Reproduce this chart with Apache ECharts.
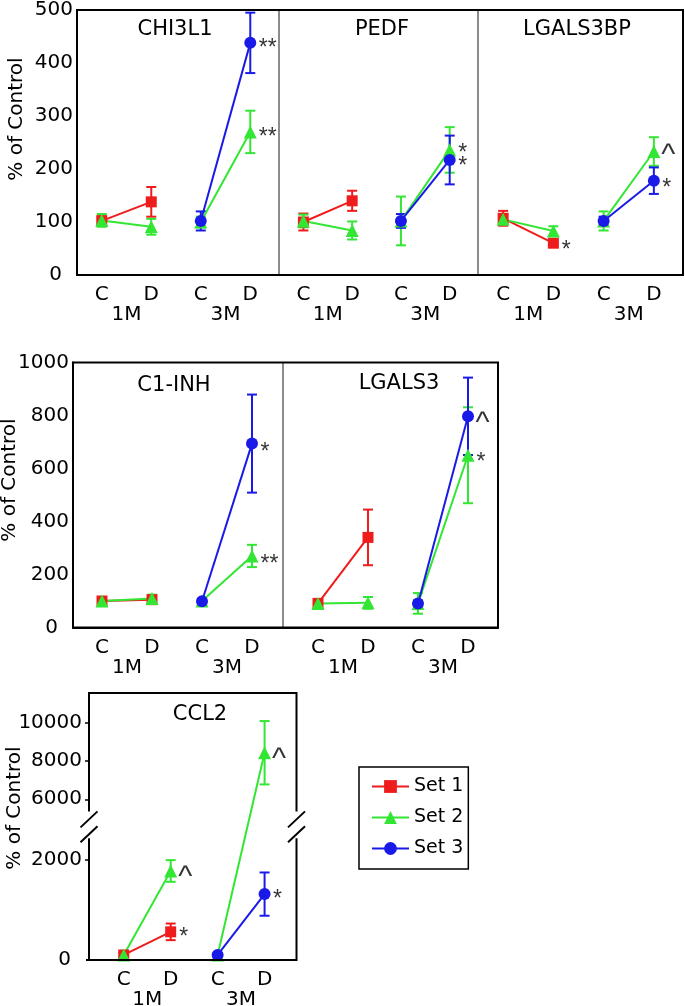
<!DOCTYPE html>
<html>
<head>
<meta charset="utf-8">
<script src="https://cdn.jsdelivr.net/npm/echarts@6/dist/echarts.min.js"></script>
<style>html,body{margin:0;padding:0;background:#fff}#chart{width:685px;height:1006px}</style>
</head>
<body>
<div id="chart"></div>
<script>
// x positions: C / D for 1M and 3M
var xPos = [1, 2, 3, 4];
var xTickLabels = ['C', 'D', 'C', 'D'];
var groupPos = [1.5, 3.5];
var groupLabels = ['1M', '3M'];
var setNames = ['Set 1', 'Set 2', 'Set 3'];

// CHI3L1 (% of control, mean and error)
var chi3l1Set1 = [102, 138, null, null];
var chi3l1Set1Err = [9, 28, null, null];
var chi3l1Set2 = [103, 91, 100, 270];
var chi3l1Set2Err = [12, 15, 10, 40];
var chi3l1Set3 = [null, null, 102, 438];
var chi3l1Set3Err = [null, null, 18, 57];
var chi3l1Marks = [[4, 438, '**'], [4, 270, '**']];

// PEDF
var pedfSet1 = [100, 140, null, null];
var pedfSet1Err = [16, 19, null, null];
var pedfSet2 = [102, 84, 102, 236];
var pedfSet2Err = [12, 17, 46, 43];
var pedfSet3 = [null, null, 102, 217];
var pedfSet3Err = [null, null, 13, 46];
var pedfMarks = [[4, 241, '*'], [4, 215, '*']];

// LGALS3BP
var lgals3bpSet1 = [107, 60, null, null];
var lgals3bpSet1Err = [14, 5, null, null];
var lgals3bpSet2 = [105, 83, 102, 233];
var lgals3bpSet2Err = [8, 9, 18, 27];
var lgals3bpSet3 = [null, null, 102, 178];
var lgals3bpSet3Err = [null, null, 8, 25];
var lgals3bpMarks = [[2, 57, '*'], [4, 238, '^'], [4, 174, '*']];

// C1-INH
var c1inhSet1 = [100, 105, null, null];
var c1inhSet1Err = [12, 10, null, null];
var c1inhSet2 = [100, 109, 100, 270];
var c1inhSet2Err = [10, 15, 8, 42];
var c1inhSet3 = [null, null, 99, 694];
var c1inhSet3Err = [null, null, 8, 185];
var c1inhMarks = [[4, 684, '*'], [4, 259, '**']];

// LGALS3
var lgals3Set1 = [91, 340, null, null];
var lgals3Set1Err = [10, 105, null, null];
var lgals3Set2 = [91, 93, 91, 650];
var lgals3Set2Err = [8, 22, 39, 181];
var lgals3Set3 = [null, null, 91, 797];
var lgals3Set3Err = [null, null, 10, 146];
var lgals3Marks = [[4, 795, '^'], [4, 644, '*']];

// CCL2
var ccl2Set1 = [100, 560, null, null];
var ccl2Set1Err = [40, 165, null, null];
var ccl2Set2 = [100, 1770, 100, 8430];
var ccl2Set2Err = [40, 215, 30, 1655];
var ccl2Set3 = [null, null, 100, 1310];
var ccl2Set3Err = [null, null, 30, 430];
var ccl2Marks = [[4, 8430, '^'], [2, 1770, '^'], [2, 563, '*'], [4, 1312, '*']];
var ccl2Ticks = [0, 2000, 6000, 8000, 10000];

// CCL2 broken axis: lower part 1:1, upper part compressed
var CCL2_LOW_TOP = 2500, CCL2_HIGH_BOTTOM = 4950;
var CCL2_HIGH_RATIO = 0.3807, CCL2_HIGH_REF = 10000, CCL2_HIGH_REF_D = 4718, CCL2_MAX_D = 5308;
function ccl2Map(v) {
	return v <= CCL2_LOW_TOP ? v : CCL2_HIGH_REF_D + (v - CCL2_HIGH_REF) * CCL2_HIGH_RATIO;
}
function ccl2Unmap(d) {
	return d <= CCL2_LOW_TOP ? d : CCL2_HIGH_REF + (d - CCL2_HIGH_REF_D) / CCL2_HIGH_RATIO;
}
function same(v) { return v; }

var FONT = 'DejaVu Sans';
var MARK_FONT = 'Liberation Sans';
var colors = ['#ee1c1c', '#33e633', '#1a1ae8'];
var symbols = ['rect', 'triangle', 'circle'];
var symbolSizes = [11, 13, 12];

var panels = [
	{ title: 'CHI3L1', tx: 175, ty: 30, grid: { left: 77, top: 10, width: 202, height: 265 }, x: [0.5, 4.58], y: [0, 500, 100], showY: true,
	  sets: [[chi3l1Set1, chi3l1Set1Err], [chi3l1Set2, chi3l1Set2Err], [chi3l1Set3, chi3l1Set3Err]], marks: chi3l1Marks },
	{ title: 'PEDF', tx: 382, ty: 30, grid: { left: 279, top: 10, width: 199, height: 265 }, x: [0.5, 4.58], y: [0, 500, 100], showY: false,
	  sets: [[pedfSet1, pedfSet1Err], [pedfSet2, pedfSet2Err], [pedfSet3, pedfSet3Err]], marks: pedfMarks },
	{ title: 'LGALS3BP', tx: 577, ty: 30, grid: { left: 478, top: 10, width: 205, height: 265 }, x: [0.5, 4.58], y: [0, 500, 100], showY: false,
	  sets: [[lgals3bpSet1, lgals3bpSet1Err], [lgals3bpSet2, lgals3bpSet2Err], [lgals3bpSet3, lgals3bpSet3Err]], marks: lgals3bpMarks },
	{ title: 'C1-INH', tx: 174, ty: 386, grid: { left: 73, top: 362.5, width: 210, height: 265 }, x: [0.42, 4.62], y: [0, 1000, 200], showY: true,
	  sets: [[c1inhSet1, c1inhSet1Err], [c1inhSet2, c1inhSet2Err], [c1inhSet3, c1inhSet3Err]], marks: c1inhMarks },
	{ title: 'LGALS3', tx: 399, ty: 384, grid: { left: 283, top: 362.5, width: 215, height: 265 }, x: [0.3, 4.6], y: [0, 1000, 200], showY: false,
	  sets: [[lgals3Set1, lgals3Set1Err], [lgals3Set2, lgals3Set2Err], [lgals3Set3, lgals3Set3Err]], marks: lgals3Marks },
	{ title: 'CCL2', tx: 200, ty: 715, grid: { left: 89, top: 693, width: 207.5, height: 267 }, x: [0.26, 4.68], broken: true, showY: true,
	  sets: [[ccl2Set1, ccl2Set1Err], [ccl2Set2, ccl2Set2Err], [ccl2Set3, ccl2Set3Err]], marks: ccl2Marks }
];

var labelStyle = { fontFamily: FONT, fontSize: 20, color: '#000' };
// the zero label sits further left than the others
var zeroRich = { z: { fontFamily: FONT, fontSize: 20, color: '#000', padding: [0, 11, 0, 0] } };
function yLabel(v) { return v === 0 ? '{z|0}' : String(v); }

var grids = [], xAxes = [], yAxes = [], series = [], graphics = [];

panels.forEach(function(p, gi) {
	var tf = p.broken ? ccl2Map : same;
	grids.push(Object.assign({ outerBoundsMode: 'none', containLabel: false }, p.grid));

	xAxes.push({
		gridIndex: gi, type: 'value', min: p.x[0], max: p.x[1],
		axisLine: { show: !p.broken, onZero: false, lineStyle: { color: '#000', width: 2 } },
		axisTick: { show: false }, splitLine: { show: false },
		axisLabel: Object.assign({ customValues: xPos, margin: 10, formatter: function(v) { return xTickLabels[xPos.indexOf(v)]; } }, labelStyle)
	});
	xAxes.push({
		gridIndex: gi, type: 'value', min: p.x[0], max: p.x[1], position: 'bottom', offset: 20,
		axisLine: { show: false }, axisTick: { show: false }, splitLine: { show: false },
		axisLabel: Object.assign({ customValues: groupPos, margin: 10, formatter: function(v) { return groupLabels[groupPos.indexOf(v)]; } }, labelStyle)
	});

	if (p.broken) {
		var tickD = ccl2Ticks.map(ccl2Map);
		yAxes.push({
			gridIndex: gi, type: 'value', min: 0, max: CCL2_MAX_D,
			axisLine: { show: false },
			axisTick: { show: true, customValues: tickD.slice(1), length: 4, lineStyle: { color: '#000', width: 1.5 } },
			splitLine: { show: false },
			axisLabel: Object.assign({ customValues: tickD, margin: 7, rich: zeroRich,
				formatter: function(v) { return yLabel(Math.round(ccl2Unmap(v))); } }, labelStyle)
		});
	} else {
		yAxes.push({
			gridIndex: gi, type: 'value', min: p.y[0], max: p.y[1], interval: p.y[2], show: p.showY,
			axisLine: { show: true, lineStyle: { color: '#000', width: 2 } },
			axisTick: { show: false }, splitLine: { show: false },
			axisLabel: Object.assign({ margin: 4, rich: zeroRich, formatter: yLabel }, labelStyle)
		});
	}

	p.sets.forEach(function(s, si) {
		var means = s[0], errs = s[1], color = colors[si];
		var bars = [], pts = [];
		xPos.forEach(function(x, i) {
			if (i == 2) pts.push([2.5, '-']);
			if (means[i] == null) { pts.push([x, '-']); return; }
			pts.push([x, tf(means[i])]);
			bars.push([x, tf(means[i] - errs[i]), tf(means[i] + errs[i])]);
		});
		series.push({
			type: 'custom', name: setNames[si] + ' err', xAxisIndex: gi * 2, yAxisIndex: gi, silent: true,
			encode: { x: 0, y: [1, 2] },
			renderItem: function(params, api) {
				var top = api.coord([api.value(0), api.value(2)]);
				var bot = api.coord([api.value(0), api.value(1)]);
				var w = 5, st = { stroke: color, lineWidth: 2 };
				return { type: 'group', children: [
					{ type: 'line', shape: { x1: top[0], y1: top[1], x2: bot[0], y2: bot[1] }, style: st },
					{ type: 'line', shape: { x1: top[0] - w, y1: top[1], x2: top[0] + w, y2: top[1] }, style: st },
					{ type: 'line', shape: { x1: bot[0] - w, y1: bot[1], x2: bot[0] + w, y2: bot[1] }, style: st }
				] };
			},
			data: bars
		});
		series.push({
			type: 'line', name: setNames[si], xAxisIndex: gi * 2, yAxisIndex: gi, silent: true,
			symbol: symbols[si], symbolSize: symbolSizes[si], showAllSymbol: true,
			lineStyle: { color: color, width: 2 }, itemStyle: { color: color },
			data: pts
		});
	});

	// significance marks
	series.push({
		type: 'scatter', xAxisIndex: gi * 2, yAxisIndex: gi, silent: true, symbolSize: 1, z: 5,
		itemStyle: { color: 'transparent' },
		data: p.marks.map(function(m) {
			var caret = m[2] == '^';
			return {
				value: [m[0], tf(m[1]), m[2]],
				label: { show: true, position: 'right', distance: caret ? 7 : 8, formatter: function(q) { return q.value[2]; },
					fontFamily: MARK_FONT, fontSize: caret ? 30 : 23, color: '#000', offset: [0, caret ? 7 : 6] }
			};
		})
	});

	graphics.push({ type: 'text', x: p.tx, y: p.ty, z: 10,
		style: { text: p.title, fontFamily: FONT, fontSize: 21, fill: '#000', align: 'center', verticalAlign: 'middle' } });
});

// y axis titles
[[17, 119], [10, 480], [15, 808]].forEach(function(c) {
	graphics.push({ type: 'text', x: c[0], y: c[1], rotation: Math.PI / 2, z: 10,
		style: { text: '% of Control', fontFamily: FONT, fontSize: 20, fill: '#000', align: 'center', verticalAlign: 'middle' } });
});

// panel frames
[[panels[0], panels[2]], [panels[3], panels[4]]].forEach(function(row) {
	var a = row[0].grid, b = row[1].grid;
	graphics.push({ type: 'rect', z: 10, shape: { x: a.left, y: a.top, width: b.left + b.width - a.left, height: a.height },
		style: { fill: 'none', stroke: '#000', lineWidth: 2 } });
});
[panels[1], panels[2], panels[4]].forEach(function(p) {
	var g = p.grid;
	graphics.push({ type: 'line', z: 9, shape: { x1: g.left, y1: g.top, x2: g.left, y2: g.top + g.height },
		style: { stroke: '#8c8c8c', lineWidth: 2 } });
});

var chart = echarts.init(document.getElementById('chart'));
chart.setOption({
	animation: false,
	backgroundColor: '#fff',
	legend: {
		data: setNames, orient: 'vertical', left: 359, top: 767,
		padding: [10, 5, 11, 12], itemWidth: 37, itemHeight: 16, itemGap: 12,
		borderColor: '#000', borderWidth: 1.5,
		textStyle: { fontFamily: FONT, fontSize: 19, color: '#000' }
	},
	grid: grids,
	xAxis: xAxes,
	yAxis: yAxes,
	series: series
});

// CCL2 frame with axis break marks
var cg = panels[5].grid;
var l = cg.left, r = cg.left + cg.width, t = cg.top, b = cg.top + cg.height;
var yHi = chart.convertToPixel({ yAxisIndex: 5 }, ccl2Map(CCL2_HIGH_BOTTOM));
var yLo = chart.convertToPixel({ yAxisIndex: 5 }, CCL2_LOW_TOP);
var st = { stroke: '#000', lineWidth: 2, fill: 'none' };
graphics.push({ type: 'polyline', z: 10, shape: { points: [[l, yHi - 8], [l, t], [r, t], [r, yHi - 8]] }, style: st });
graphics.push({ type: 'polyline', z: 10, shape: { points: [[l, yLo + 4], [l, b], [r, b], [r, yLo + 4]] }, style: st });
graphics.push({ type: 'line', z: 10, shape: { x1: l - 3, y1: b, x2: r, y2: b }, style: st });
[l, r].forEach(function(x) {
	[yHi, yLo].forEach(function(y) {
		graphics.push({ type: 'line', z: 10, shape: { x1: x - 8.5, y1: y + 8, x2: x + 8.5, y2: y - 8 }, style: st });
	});
});

chart.setOption({ graphic: graphics });
</script>
</body>
</html>
